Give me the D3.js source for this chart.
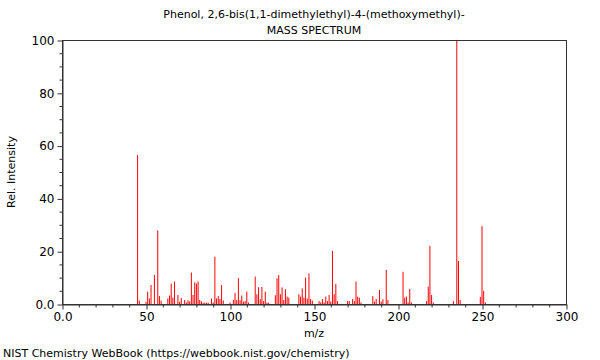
<!DOCTYPE html>
<html>
<head>
<meta charset="utf-8">
<script src="https://cdn.jsdelivr.net/npm/d3@7"></script>
<style>
  body { margin: 0; background: #fff; }
  svg { display: block; font-family: "DejaVu Sans", sans-serif; }
</style>
</head>
<body>
<div id="chart"></div>
<script>
// peaks
const mzValues = [45, 46, 50, 51, 52, 53, 55, 57, 58, 59, 63, 64, 65, 66, 67, 69, 70, 71, 73, 74, 75, 76, 77, 78, 79, 80, 81, 82, 83, 84, 85, 86, 87,
  89, 90, 91, 92, 93, 94, 95, 96, 100, 102, 103, 104, 105, 106, 107, 108, 109, 110, 111, 115, 116, 117, 118, 119, 120, 121, 122, 123,
  127, 128, 129, 130, 131, 132, 133, 134, 135, 141, 142, 143, 144, 145, 146, 147, 148, 149, 153, 154, 155, 156, 157, 158, 159, 160,
  161, 162, 163, 164, 170, 171, 173, 174, 175, 176, 177, 178, 185, 186, 187, 189, 190, 191, 193, 194, 203, 204, 205, 206, 207, 208,
  217, 218, 219, 220, 221, 233, 235, 236, 237, 249, 250, 251, 252];
const intensities = [56.4, 1.3, 0.8, 4.7, 2.1, 7.2, 11.0, 27.8, 3.0, 1.3, 2.1, 3.2, 7.7, 2.4, 8.5, 3.4, 0.9, 2.3, 1.5, 0.6, 1.4, 1.0, 11.9, 3.4, 8.2, 7.8, 8.5, 1.5, 1.0, 0.5, 0.5, 0.5, 0.5,
  2.1, 0.6, 17.9, 2.1, 3.0, 1.9, 7.2, 1.3, 0.5, 1.5, 4.2, 1.5, 9.8, 1.4, 3.2, 0.9, 1.1, 4.7, 0.6, 10.4, 3.7, 6.3, 1.8, 6.4, 1.1, 4.7, 0.5, 0.5,
  3.3, 9.7, 11.0, 3.7, 6.3, 1.5, 5.6, 2.8, 2.4, 3.7, 2.8, 5.9, 2.4, 10.0, 2.1, 11.6, 1.9, 1.3, 1.1, 0.6, 1.9, 0.6, 2.8, 1.1, 3.4, 0.9,
  20.1, 3.7, 7.6, 1.1, 1.1, 1.1, 1.9, 1.1, 8.5, 2.8, 2.4, 0.6, 3.0, 0.9, 1.9, 5.3, 0.9, 1.8, 12.9, 1.5, 12.2, 2.4, 2.8, 0.6, 5.7, 0.6,
  1.1, 6.6, 22.0, 3.4, 0.6, 1.1, 100, 16.3, 1.5, 2.7, 29.5, 5.0, 0.6];

const xTicks = [0, 50, 100, 150, 200, 250, 300];
const yTicks = [0, 20, 40, 60, 80, 100];
const titleLines = ["Phenol, 2,6-bis(1,1-dimethylethyl)-4-(methoxymethyl)-", "MASS SPECTRUM"];

const width = 600, height = 360;
const margin = { top: 40, right: 34, bottom: 56, left: 62 };

const svg = d3.select('#chart').append('svg')
  .attr('width', width)
  .attr('height', height);

const x = d3.scaleLinear().domain([0, 300]).range([margin.left, width - margin.right]);
const y = d3.scaleLinear().domain([0, 100]).range([height - margin.bottom, margin.top]);

// peaks
const peaks = mzValues.map((m, i) => ({ mz: m, v: intensities[i] }));
svg.append('g').selectAll('line')
  .data(peaks)
  .enter().append('line')
  .attr('x1', d => x(d.mz))
  .attr('x2', d => x(d.mz))
  .attr('y1', y(0))
  .attr('y2', d => y(d.v))
  .attr('stroke', '#ff0000')
  .attr('stroke-width', 1);

// frame
svg.append('rect')
  .attr('x', x(0) + 0.5)
  .attr('y', y(100) + 0.5)
  .attr('width', x(300) - x(0))
  .attr('height', y(0) - y(100))
  .attr('fill', 'none')
  .attr('stroke', '#333');

// minor ticks
const xMinor = d3.range(0, 301, 10).filter(v => v % 50 !== 0);
const yMinor = d3.range(0, 101, 5).filter(v => v % 20 !== 0);

const xAxis = svg.append('g')
  .attr('transform', `translate(0.5,${y(0) + 0.5})`)
  .call(d3.axisBottom(x).tickValues(xTicks).tickSize(5).tickSizeOuter(0)
    .tickFormat(d => d === 0 ? '0.0' : d));
xAxis.append('g').selectAll('line')
  .data(xMinor).enter().append('line')
  .attr('x1', d => x(d)).attr('x2', d => x(d))
  .attr('y1', 0).attr('y2', 3)
  .attr('stroke', '#333');

const yAxis = svg.append('g')
  .attr('transform', `translate(${x(0) + 0.5},0.5)`)
  .call(d3.axisLeft(y).tickValues(yTicks).tickSize(5).tickSizeOuter(0)
    .tickFormat(d => d === 0 ? '0.0' : d));
yAxis.append('g').selectAll('line')
  .data(yMinor).enter().append('line')
  .attr('y1', d => y(d)).attr('y2', d => y(d))
  .attr('x1', 0).attr('x2', -3)
  .attr('stroke', '#333');

svg.selectAll('.domain').attr('stroke', '#333');
svg.selectAll('.tick line').attr('stroke', '#333');
svg.selectAll('.tick text')
  .style('font-family', '"DejaVu Sans", sans-serif')
  .style('font-size', '12px')
  .attr('fill', '#000');

// titles
svg.selectAll('.title')
  .data(titleLines)
  .enter().append('text')
  .attr('class', 'title')
  .attr('x', (x(0) + x(300)) / 2)
  .attr('y', (d, i) => 18 + i * 16)
  .attr('text-anchor', 'middle')
  .style('font-size', '11px')
  .text(d => d);

svg.append('text')
  .attr('x', (x(0) + x(300)) / 2)
  .attr('y', 337)
  .attr('text-anchor', 'middle')
  .style('font-size', '11px')
  .text('m/z');

svg.append('text')
  .attr('transform', `translate(15,${(y(0) + y(100)) / 2}) rotate(-90)`)
  .attr('text-anchor', 'middle')
  .style('font-size', '11px')
  .text('Rel. Intensity');

svg.append('text')
  .attr('x', 3)
  .attr('y', 357)
  .style('font-size', '11px')
  .text('NIST Chemistry WebBook (https://webbook.nist.gov/chemistry)');
</script>
</body>
</html>
